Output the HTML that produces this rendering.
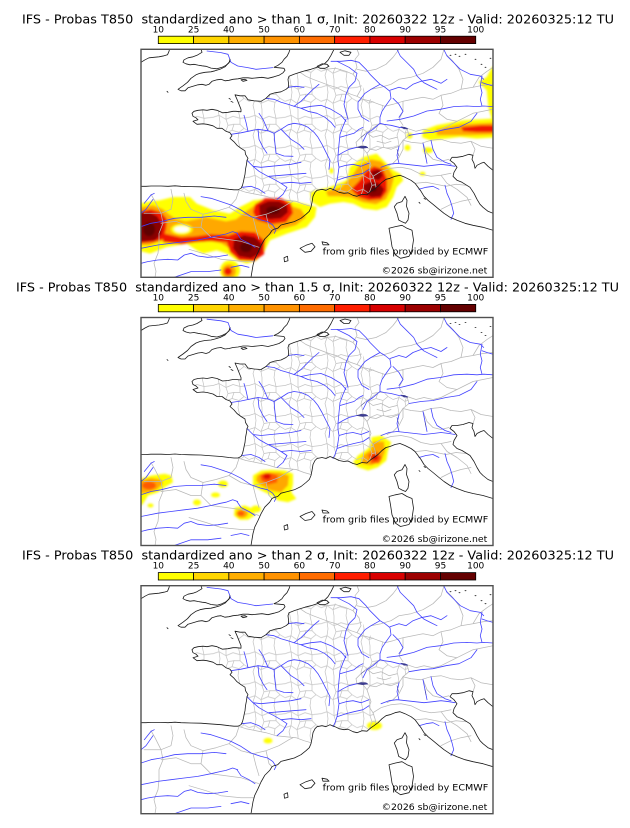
<!DOCTYPE html>
<html><head><meta charset="utf-8">
<style>
html,body{margin:0;padding:0;background:#fff;}
svg{display:block;}
text{font-family:"DejaVu Sans","Liberation Sans",sans-serif;}
</style></head>
<body>
<svg xmlns="http://www.w3.org/2000/svg" xmlns:xlink="http://www.w3.org/1999/xlink" width="630" height="828" viewBox="0 0 630 828">
<defs>
<filter id="sm" x="-10%" y="-10%" width="120%" height="120%"><feGaussianBlur stdDeviation="1.1"/></filter>
<clipPath id="frame"><rect x="0" y="0" width="352" height="228"/></clipPath>
<clipPath id="fr"><path d="M159,23 L153,25 148,27 147,30 147.5,34 147.5,38 145,40 140,42.5 134,43.5 129,45 125,49 120,52 113,51.5 107,50.5 104,46.5 99,46.5 94,45.5 96,50 98,55 100,60 100,62.5 95,62 92,62 87,63 81.5,63.5 76,61 71,60 66,61 62,60.5 57,61 53,62 51,64 52,67 55,68.5 57,70.5 52,72 56,75 62,74.5 66,75 72,76.5 76,79 81,79 85,82 89,83.5 91,86.5 89,89 93,92.5 96,96 100,99 104,101.5 104.5,105 107,109 106,111 105.5,115 104.5,120 104,125 103.3,128 102.5,132 101.5,136 100,139 97,140.5 105,143 115,145 125,147 135,150 145,151 155,152 163,155 170,157 171,153 172,147 174,143 176,141 181,140 185,141 189,139 194,141 198,143 203,144 207,143.5 212,146 216,147 221,145 226,145.5 230,142 233,140 235,136 234,130 231,124 230,117 227,110 226,104 229,100 235,101 242,98 250,100 258,97 262,91 268,86 266,79 258,78 250,76 243,75 239,74 239,68 241,62 244,57 240,55 232,52 226,47 222,38 215,28 205,22 195,18 185,15 176,18 170,20 164,21.5 Z"/></clipPath>
<pattern id="dept" patternUnits="userSpaceOnUse" width="36" height="30">
<path d="M0,8 L6,6 13,10 20,7 27,9 36,8 M0,22 L6,20 12,24 19,21 26,23 31,19 36,22 M5,0 L6,6 7,13 6,20 4,26 5,30 M13,0 L13,10 15,16 12,24 13,30 M25,0 L27,9 27,15 31,19 M26,23 L25,30 M15,16 L21,15 19,21 M21,15 L27,15" fill="none" stroke="#c2c2c2" stroke-width="0.7"/>
</pattern>
<g id="base" fill="none" stroke-linejoin="round" stroke-linecap="round">
<rect x="0" y="0" width="352" height="228" fill="url(#dept)" clip-path="url(#fr)" stroke="none"/>
<g stroke="#b8b8b8" stroke-width="0.75">
<path d="M97,140.5 L105,143 115,145 125,147 135,150 145,151 155,152 163,155 170,157"/>
<path d="M159,23 L165,27 172,30 180,33 188,36 195,38 203,42 210,45 216,47 222,50 230,52 238,55 244,57"/>
<path d="M176,18 L185,20 195,19 205,22 212,25 M212,25 L216,18 214,10 218,5 216,0 M212,25 L218,32 220,40 216,47"/>
<path d="M239,74 L233,78 226,83 220,88 215,93 216,98 222,99 226,104 229,100 235,101 242,98 250,100 258,97 262,91 268,86 266,79"/>
<path d="M226,104 L228,110 230,116 228,121 232,127 234,133 235,138"/>
<path d="M266,79 L275,82 283,80 292,82 300,80 308,76 316,72 324,68 332,64 342,62 352,60"/>
<path d="M262,91 L270,93 280,94 290,91 300,90 310,93 320,94 330,92 340,97 352,99 M330,92 L334,100 332,106"/>
<path d="M216,20 L225,22 235,20 245,15 252,8 258,0 M230,40 L240,38 250,35 258,30 270,28 282,24 292,18 300,10 303,0 M244,57 L252,55 262,52 272,50 282,48 292,50 300,46 310,44 320,40 332,38 342,36 352,35 M262,52 L262,62 258,70 262,76 M300,46 L302,56 298,64 306,70 316,72 M320,40 L322,30 318,20 312,12 306,6 M332,38 L338,28 346,22 352,18"/>
<path d="M232,127 L240,122 250,119 260,118 270,120 280,125 290,127 300,126 310,124 M262,91 L262,100 258,108 252,114 246,117 M282,94 L286,104 292,110 300,112 308,110 M275,134 L285,133 295,135 305,137 315,135 325,136 M300,126 L306,134 316,140 326,148 330,156 M300,160 L310,155 320,152 330,150"/>
<path d="M43,144 L45,152 50,160 62,165 75,162 88,158 95,150 98,141 M88,158 L100,165 112,168 125,165 138,160 148,154 152,152 M62,165 L60,178 70,188 85,190 100,192 112,196 118,198 M112,168 L115,180 118,190 M20,174 L35,172 50,178 60,178 M48,200 L65,205 80,210 100,212 113,212 M125,165 L128,178 131,181 M30,140 L32,150 30,160 20,164 10,164 3,164"/>
<path d="M10,145 L14,152 20,164 22,174 18,184 18,194 17,204 13,214 15,222 14,228"/>
<path d="M225,83 L232,88 240,86 248,90 256,88 M236,92 L244,94 250,92"/>
</g>
<g stroke="#4242ff" stroke-width="0.8">
<path d="M66,1.7 L80,3.3 87,5 90,13 96.7,16.7 106.7,18.3 115,20 121.7,19.3 131.7,18.3"/>
<path d="M125,49 L133,50 140,53 147,55 153,57 160,59 167,62 176,64 184,68 190,73 194,78"/>
<path d="M160,59 L170,57 180,56 190,60 200,66 205,72 M153,57 L160,52 166,46 172,40 178,35 M147,38 L155,37 163,38"/>
<path d="M90,85 L100,83.5 107,82 117,80 127,81.5 133,84 140,80 147,75.5 153,74 160,75 167,78 173,83 177,88 181,95 185,103 189,111 188,120"/>
<path d="M117,80 L118,90 122,98 126,104 M133,84 L134,95 135,104 143,106.7 152,107 M140,80 L150,90 158,95 163,100 M127,81.5 L122,70 118,64 M107,82 L105,73 103,66"/>
<path d="M106,111 L112,117 118,122 125,126 133,130 140,134 146,138 142,145 136,150 M112,117 L120,118 130,117 140,116 150,115 160,113 M128,127 L140,126 152,125 165,124 M140,134 L150,133 160,134 170,133 M101,138 L110,137 118,140 124,144"/>
<path d="M216,98 L208,100 202,103 197,106 197,112 198,118 197,125 196,131 194,137 192,141 M197,106 L198,95 199,85 202,77 205,70 M199,88 L206,86 213,84 218,80 222,78 M198,118 L205,116 212,115 220,117 228,114 M196,131 L205,128 213,126 222,124 228,120"/>
<path d="M266,79 L258,78 250,76 243,75 239,74 239,68 241,62 245,56 250,49 249,42 244,38 239,35 234,30 229,25 225,20 218,13 210,11 200,12 190,12 M239,74 L232,80 226,84 222,92"/>
<path d="M239,35 L230,40 224,44 217,53 217,60 221,68 228,72 M196,12 L208,18 216,24 214,32 208,38 205,45 203,55 205,63 207,70"/>
<path d="M249,41 L258,38 265,40 272,35 280,32 290,30 300,34 306,30 M252,49 L258,55 262,62 258,68"/>
<path d="M246,71.7 L259.3,70 272.7,66.7 286,61.7 299.3,60 312.7,57.3 326,56.7 336,57.3 342.7,56.7 352,57.3"/>
<path d="M302.7,0 L306,6.7 312.7,13.3 319.3,20 329.3,25 339.3,26.7 342.7,30 M341,26.7 L339.3,36.7 341,43.3 339.3,50 341,56.7 M352,36.7 L346,35 341,33.3 M256,0 L259.3,6.7 266,13.3 272.7,20 276,26.7 282.7,33.3 289.3,36.7 296,40"/>
<path d="M268,86 L280,84 292,83 305,80 318,78 330,72 336,64"/>
<path d="M240,118 L248,115 256,114 265,115 274,116 283,117 292,116 300,115 308,116 314,117 M290,91 L292,100 296,108 304,113 310,115 M258,97 L256,106 258,114 M282,94 L284,104 286,114"/>
<path d="M278,140 L285,138 292,137 298,140 M304,136 L306,144 309,150.7 311,157 312.7,164 310,170"/>
<path d="M60,147.3 L70,149 80,152.3 90,155.7 100,160.7 110,167.3 120,170.7 126.7,172.3 131.7,175.7 135,180.7 133.3,184"/>
<path d="M0,177.3 L10,174 20,172.3 33.3,169 46.7,168 60,168 73.3,166.7 85,168"/>
<path d="M0,199 L16.7,195.7 30,194 43.3,192.3 56.7,190.7 70,188 80,185.7 85,184.7 91.7,182.3 96.7,184"/>
<path d="M0,214 L6.7,212.3 16.7,210.7 26.7,210 36.7,210.7 43.3,205.7 50,204 56.7,206.7 66.7,208 76.7,207.3 86.7,205.7"/>
<path d="M33.3,228 L50,222.3 66.7,222.3 80,220.7 M3.3,154 L10,145.7 13.3,144 M12,150 L5,160 0,164 M96,184 L100,190 108,194 114,198 M90,218 L100,216 108,218"/>
</g>
<g stroke="#1a1a1a" stroke-width="0.8">
<path d="M0,13 L4,10.5 8,8.5 13,8 18,7.5 23,6.5 26.5,5.5 28,2 28.5,0"/>
<path d="M60,0 L61,3 56,6 52,7.5 47,8.5 43,10.5 42,13 45,14.5 49,15.5 53,15 57,15.8 61,16.5 65,17 70,18.8 76,19.5 81,18 85,16 88,13.5 89,10"/>
<path d="M89,12 L84,17.5 79,20 74,21.5 70,22.5 64,23 59,24 55,25.5 50,29 46.5,33 42,36.5 37,40 40,41.5 44,41.5 47,38.5 52,37 57,35.5 61,35 65,36 68,35 71,32 76,30.5 80,30 84,31.5 88,31 92,30 97,29.5 102,28.5 107,28.5 111,29 116,28.5 121,28 127,29 133,27.5 138,26 142,23.5 144,21 143,19 138,18.5 133,18 137,16 141,13 143,10 146,7 148,3 149,0"/>
<path d="M100,30.5 L104,30 106,31 102,32 Z M88,49 L89.5,50 M90,52 L92,53 M26,42 L27,43"/>
<path d="M193,0 L190,6 187,11 184,14 180,16 176,18 170,20 164,21.5 159,23 153,25 148,27 147,30 147.5,34 147.5,38 145,40 140,42.5 134,43.5 129,45 125,49 120,52 113,51.5 107,50.5 104,46.5 99,46.5 94,45.5 96,50 98,55 100,60 100,62.5 95,62 92,62 87,63 81.5,63.5 76,61 71,60 66,61 62,60.5 57,61 53,62 51,64 52,67 55,68.5 57,70.5 52,72 56,75 62,74.5 66,75 72,76.5 76,79 81,79 85,82 89,83.5 91,86.5 89,89 93,92.5 96,96 100,99 104,101.5 104.5,105 107,109 106,111 105.5,115 104.5,120 104,125 103.3,128 102.5,132 101.5,136 100,139 97,140.5 93,140.5 88,140 80,139 73,138.5 66,138 60,137.5 50,137.3 40,137 34,136.5 27,137 20,136.7 10,136.7 5,137 0,137"/>
<path d="M176,17 L181,14.5 186,15 188,17 184,19 179,19 Z M199,3 L204,1.5 210,3 208,6 203,6 Z"/>
<path d="M110,228 L112,216 113.7,209.7 117,203 120,196.3 123.7,189.7 128.7,184.7 131,181 133,180 136.7,179 140,175.7 146.7,174 153.3,172.3 160,169 165,165 168.3,162 170,158 171,153 172,147 174,143 176,141 181,140 185,141 189,139 194,141 198,143 203,144 207,143.5 212,146 216,147 221,145 226,145.5 230,142 233,140 237,137 241,133 245,130 249,129 254,127 259,126 264,128 270,131 274,134 277,138 280,142 283,147 287,151 292,155 298,160 303,164 309,168 316,171 324,174 332,176 342,178 352,181"/>
<path d="M352,121 L347,117 343,113 340,114 336,116 334,119 333,114 331,110 332,106 328,105 322,107 316,108 311,108 309,111 313,114 316,118 313,123 312,127 316,131 321,133 329,138 333,144 336,150 339,155 342,158 347,162 352,164"/>
<path d="M264,147 L266,151 265.5,157 268,164 267,170.7 264.5,174 261,172.5 257.7,170.7 256,164 253.3,157.3 256,154 261,152.3 Z"/>
<path d="M261,176 L266,179 271,181 272.5,190.7 271,200.7 268,207 259.5,209 254.5,205.7 251,197.3 249.5,187.3 248,179 254.5,177.3 Z"/>
<path d="M159,199 L165,196 171,194 174,197.5 170,202 164,203 Z M181,192.5 L186,193.5 188,195.5 182,195.5 Z M143,208.5 L146.5,207 147,211.5 143.5,212.5 Z M283,149 L284.5,150 M278,153 L279,154"/>
<path d="M309,6 L310,6 M314,5 L315,5 M318,7 L319,7 M324,5 L325,5 M334,10 L335,10 M340,15 L341,15 M344,18 L345,18 M349,9 L350,9"/>
</g>
<g fill="#3c3c90" stroke="#3c3c90" stroke-width="0.5">
<path d="M216,98 L220,96.8 225,97 227,98.3 222,99 Z"/>
<path d="M260,77.5 L264,78 267,79.6 263,79.6 Z"/>
<path d="M220,88 L224,85 M256,100 L257.7,106.7 M284,104 L285,109" fill="none"/>
</g>
</g>
</defs>

<!-- ================= PANEL 1 ================= -->
<text x="22" y="23.3" font-size="12.8" textLength="592" lengthAdjust="spacingAndGlyphs" style="white-space:pre">IFS - Probas T850  standardized ano &gt; than 1 σ, Init: 20260322 12z - Valid: 20260325:12 TU</text>
<g font-size="9" text-anchor="middle">
<text x="158.3" y="32.3">10</text><text x="193.6" y="32.3">25</text><text x="228.8" y="32.3">40</text><text x="264.1" y="32.3">50</text><text x="299.4" y="32.3">60</text><text x="334.7" y="32.3">70</text><text x="369.9" y="32.3">80</text><text x="405.2" y="32.3">90</text><text x="440.5" y="32.3">95</text><text x="475.7" y="32.3">100</text>
</g>
<g id="cbar1" transform="translate(0,36.2)" stroke="#000" stroke-width="0.8">
<rect x="158.3" y="0" width="35.27" height="7.4" fill="#ffff00"/>
<rect x="193.57" y="0" width="35.27" height="7.4" fill="#ffd600"/>
<rect x="228.84" y="0" width="35.27" height="7.4" fill="#ffae00"/>
<rect x="264.11" y="0" width="35.27" height="7.4" fill="#ff9200"/>
<rect x="299.38" y="0" width="35.27" height="7.4" fill="#ff6c00"/>
<rect x="334.65" y="0" width="35.27" height="7.4" fill="#ff1e00"/>
<rect x="369.92" y="0" width="35.27" height="7.4" fill="#d80000"/>
<rect x="405.19" y="0" width="35.27" height="7.4" fill="#9c0000"/>
<rect x="440.46" y="0" width="35.27" height="7.4" fill="#640000"/>
</g>
<g transform="translate(141,49.3)">
<g clip-path="url(#frame)">
<g filter="url(#sm)">
<g fill="#ffff00">
<path d="M-5,154 L0,154 10,152 19,151 32,147.7 49,147.7 55.7,154.3 72.3,161 89,164.3 99,157.7 112.3,151 129,149.3 145.7,151 162.3,154.3 175.7,157.7 174,167.7 165.7,177.7 145.7,184.3 129,191 122.3,204.3 115.7,211 105.7,214.3 95.7,211 85.7,204.3 75.7,201 62.3,204.3 55.7,201 45.7,194.3 25.7,197.7 9,204.3 0,202 -5,202 Z"/>
<ellipse cx="89" cy="221" rx="10" ry="10"/>
<path d="M169,142.7 L189,137.7 205.7,131 209,117.7 222.3,107.7 235.7,104.3 245.7,114.3 252.3,121 259,124.3 262.3,131 255.7,137.7 252.3,147.7 245.7,157.7 235.7,161 222.3,159.3 212.3,154.3 202.3,152.7 189,154.3 179,157.7 170.7,152.7 Z"/>
<path d="M281,88 L282,81 295.7,76 322.3,71 357,69 357,88 335.7,89.3 319,87.7 305.7,89.3 289,91 Z"/>
<path d="M357,17 L351,17.7 345.7,27.7 337.3,32.7 345.7,41 347.3,57.7 351,71 357,71 Z"/>
<ellipse cx="287" cy="101" rx="5" ry="3"/><ellipse cx="266.5" cy="98.5" rx="3" ry="3"/><ellipse cx="281.5" cy="124.5" rx="3" ry="2"/><ellipse cx="190.5" cy="121.5" rx="2" ry="3"/><ellipse cx="268.5" cy="86.5" rx="3" ry="3"/>
</g>
<g fill="#ffa800">
<path d="M-5,158 L0,158 12,156 22,160 28,165 35,170 45,172 55,170 65,168 75,170 85,172 95,170 105,162 115,155 130,153 148,156 160,160 165,168 155,176 140,180 128,186 122,198 112,207 100,208 90,200 80,194 70,192 58,192 48,188 35,190 20,192 8,196 0,196 -5,196 Z"/>
<ellipse cx="88" cy="222" rx="7" ry="7"/>
<path d="M185,142 L200,138 210,128 218,116 230,110 240,112 248,120 253,128 250,140 245,150 235,155 222,153 210,148 198,147 187,147 Z"/>
<path d="M295,80 L320,75 357,73 357,85 330,86 310,86 296,86 Z"/>
</g>
<ellipse cx="40.7" cy="180" rx="11" ry="5.5" fill="#ffff00"/>
<ellipse cx="40.7" cy="180" rx="7.5" ry="3.2" fill="#ffffff"/>
<g fill="#f01800">
<path d="M-5,162 L0,162 10,160 20,163 26,170 25,180 22,190 12,193 0,194 -5,194 Z"/>
<path d="M22,184 L40,188 55,187 70,185 85,186 92,188 92,194 85,193 70,192 55,193 40,195 22,193 Z"/>
<path d="M88,186 L100,182 114,183 124,192 123,205 113,212 98,211 89,203 86,194 Z"/>
<path d="M114,155 L124,149 140,149 150,154 152,164 145,173 130,175 116,171 112,163 Z"/>
<ellipse cx="87" cy="222" rx="4" ry="4"/>
<path d="M210,140 L218,132 225,122 233,117 242,120 246,130 246,142 240,150 228,151 218,148 Z"/>
<path d="M320,78 L340,76 357,76 357,83 335,83 322,82 Z"/>
</g>
<g fill="#8a0000">
<path d="M-5,164 L0,164 8,163 16,167 21,175 20,185 14,191 4,192 0,192 -5,192 Z"/>
<path d="M93,190 L103,186 114,188 121,195 119,204 110,209 98,207 92,199 Z"/>
<path d="M118,156 L127,152 138,152 146,156 147,163 140,169 128,170 119,166 Z"/>
<path d="M222,136 L230,132 238,134 243,140 240,147 230,148 224,144 Z"/>
<path d="M230,122 L238,120 242,126 238,131 232,130 Z"/>
</g>
<g fill="#5e0000">
<ellipse cx="8" cy="180" rx="6" ry="7"/><ellipse cx="105" cy="198" rx="6" ry="5"/><ellipse cx="132" cy="161" rx="7" ry="4"/><ellipse cx="232" cy="140" rx="4" ry="3"/>
</g>
</g>
<use xlink:href="#base" href="#base"/>
<text x="181.7" y="205" font-size="9" textLength="165.6" lengthAdjust="spacingAndGlyphs">from grib files provided by ECMWF</text>
<text x="240.7" y="224.3" font-size="9" textLength="105.6" lengthAdjust="spacingAndGlyphs">©2026 sb@irizone.net</text>
</g>
<rect x="0" y="0" width="352" height="228" fill="none" stroke="#505050" stroke-width="1.4"/>
</g>

<!-- ================= PANEL 2 ================= -->
<text x="16" y="291.5" font-size="12.8" textLength="603" lengthAdjust="spacingAndGlyphs" style="white-space:pre">IFS - Probas T850  standardized ano &gt; than 1.5 σ, Init: 20260322 12z - Valid: 20260325:12 TU</text>
<g font-size="9" text-anchor="middle">
<text x="158.3" y="300.5">10</text><text x="193.6" y="300.5">25</text><text x="228.8" y="300.5">40</text><text x="264.1" y="300.5">50</text><text x="299.4" y="300.5">60</text><text x="334.7" y="300.5">70</text><text x="369.9" y="300.5">80</text><text x="405.2" y="300.5">90</text><text x="440.5" y="300.5">95</text><text x="475.7" y="300.5">100</text>
</g>
<use xlink:href="#cbar1" href="#cbar1" transform="translate(0,268.2)"/>
<g transform="translate(141,317.5)">
<g clip-path="url(#frame)">
<g filter="url(#sm)">
<g fill="#ffff00">
<path d="M-5,161 L0,161.3 10.3,158 23.7,156.3 30.3,158 32,164.7 23.7,169.7 17,174.7 7,178 2,186.3 0,188 -5,188 Z"/>
<ellipse cx="9.5" cy="188" rx="3" ry="2"/>
<path d="M112,158 L120.3,153 130.3,152.3 143.7,153 152,156.3 152,166.3 150.3,174.7 155.3,181.3 147,184.7 137,183 130.3,178 120.3,173 112,168 Z"/>
<path d="M230.3,119.7 L240.3,118 250.3,124.7 247,133 245.3,143 237,149.7 227,153 217,149.7 212,144.7 217,138 227,131.3 230.3,124.7 Z"/>
<path d="M93.7,190.3 L103.7,188 112,191.3 113.7,198 107,202.3 98.7,202.3 93,198 Z"/>
<ellipse cx="115" cy="191.5" rx="5" ry="3.5"/>
<ellipse cx="82" cy="166.5" rx="5" ry="3.5"/><ellipse cx="74.5" cy="177.5" rx="4.5" ry="2.5"/><ellipse cx="56" cy="185" rx="4" ry="3"/>
</g>
<g fill="#ffa800">
<path d="M-5,163 L0,163 10,160.5 20,162 22,166 16,172 7,175 0,176 -5,176 Z"/>
<path d="M116,158 L124,155 138,155 148,158 147,168 140,175 130,173 120,168 115,163 Z"/>
<path d="M232,124 L243,124 244,134 240,144 230,148 220,146 222,138 230,132 Z"/>
<ellipse cx="101" cy="196" rx="6" ry="4.5"/>
</g>
<g fill="#ff5a00">
<ellipse cx="8" cy="168" rx="7" ry="4"/>
<path d="M119,157 L128,155 137,158 136,165 127,167 120,163 Z"/>
<path d="M227,137 L236,134 241,140 238,146 230,146 Z"/>
<ellipse cx="100" cy="196" rx="3.5" ry="2.5"/>
</g>
<g fill="#e01000">
<ellipse cx="126" cy="159" rx="4" ry="3"/><ellipse cx="234" cy="140" rx="3.5" ry="3"/>
</g>
</g>
<use xlink:href="#base" href="#base"/>
<text x="181.7" y="205" font-size="9" textLength="165.6" lengthAdjust="spacingAndGlyphs">from grib files provided by ECMWF</text>
<text x="240.7" y="224.3" font-size="9" textLength="105.6" lengthAdjust="spacingAndGlyphs">©2026 sb@irizone.net</text>
</g>
<rect x="0" y="0" width="352" height="228" fill="none" stroke="#505050" stroke-width="1.4"/>
</g>

<!-- ================= PANEL 3 ================= -->
<text x="22" y="559.7" font-size="12.8" textLength="592" lengthAdjust="spacingAndGlyphs" style="white-space:pre">IFS - Probas T850  standardized ano &gt; than 2 σ, Init: 20260322 12z - Valid: 20260325:12 TU</text>
<g font-size="9" text-anchor="middle">
<text x="158.3" y="568.7">10</text><text x="193.6" y="568.7">25</text><text x="228.8" y="568.7">40</text><text x="264.1" y="568.7">50</text><text x="299.4" y="568.7">60</text><text x="334.7" y="568.7">70</text><text x="369.9" y="568.7">80</text><text x="405.2" y="568.7">90</text><text x="440.5" y="568.7">95</text><text x="475.7" y="568.7">100</text>
</g>
<use xlink:href="#cbar1" href="#cbar1" transform="translate(0,536.4)"/>
<g transform="translate(141,585.7)">
<g clip-path="url(#frame)">
<g filter="url(#sm)" fill="#ffff00">
<ellipse cx="127" cy="155" rx="4.5" ry="2.8"/>
<ellipse cx="233.5" cy="140" rx="7.5" ry="4.3"/>
</g>
<use xlink:href="#base" href="#base"/>
<text x="181.7" y="205" font-size="9" textLength="165.6" lengthAdjust="spacingAndGlyphs">from grib files provided by ECMWF</text>
<text x="240.7" y="224.3" font-size="9" textLength="105.6" lengthAdjust="spacingAndGlyphs">©2026 sb@irizone.net</text>
</g>
<rect x="0" y="0" width="352" height="228" fill="none" stroke="#505050" stroke-width="1.4"/>
</g>
</svg>
</body></html>
